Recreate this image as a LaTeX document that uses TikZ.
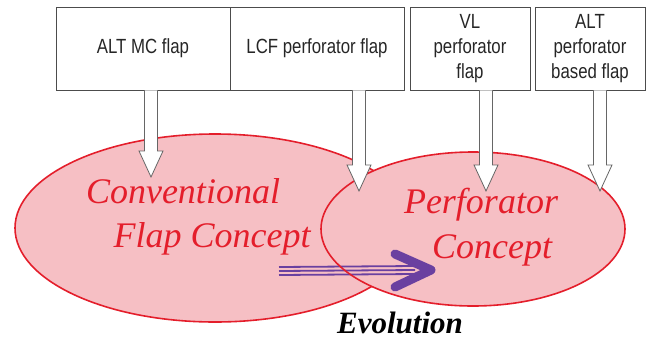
\documentclass[tikz,border=0pt]{standalone}
\usepackage{fontspec}
\newfontfamily\conceptfont{Liberation Serif}
\newfontfamily\boxfont[FakeStretch=0.82]{Liberation Sans}
\usetikzlibrary{calc,shapes.geometric}

\definecolor{flappink}{RGB}{246,191,196}
\definecolor{flapred}{RGB}{228,30,43}
\definecolor{evopurple}{RGB}{106,64,160}

% block arrow from the bottom of a box down to a tip
\newcommand{\flaparrow}[2]{%
\draw[flaparrow] ($(#2 |- #1.south)+(-6.5,0)$) -- ($(#2)+(-6.5,-26)$) -- ($(#2)+(-12,-26)$) -- (#2)
  -- ($(#2)+(12,-26)$) -- ($(#2)+(6.5,-26)$) -- ($(#2 |- #1.south)+(6.5,0)$);}

\begin{document}
\begin{tikzpicture}[x=1pt,y=-1pt,
  flapbox/.style={draw=black!70,line width=0.8pt,minimum height=83pt,inner sep=0pt,
    align=center,text=black!85,font=\boxfont\fontsize{20.5}{25}\selectfont},
  flaparrow/.style={draw=black!60,fill=white,line width=0.8pt,line join=miter},
  concept/.style={ellipse,fill=flappink,inner sep=0pt},
  concepttext/.style={anchor=base,text=flapred,font=\conceptfont\itshape\fontsize{36}{40}\selectfont}]
\useasboundingbox (0,0) rectangle (653,341);

% ellipses
\node[concept,draw=flapred,line width=1.6pt,minimum width=400pt,minimum height=188pt] (conv) at (215,228) {};
\node[concept,minimum width=304pt,minimum height=154pt] (perf) at (473,229) {};

% evolution arrow
\coordinate (evostart) at (279,271);
\coordinate (evotip) at (431,270);
\foreach \dy in {-4,0,4}
  \draw[evopurple,line width=1.8pt] ($(evostart)+(0,\dy)$) -- ($(evotip)+(-16,\dy)$);
\draw[flapred,line width=1.6pt] (perf) ellipse [x radius=152pt,y radius=77pt];
\draw[evopurple,line width=9pt,line cap=round,line join=round] ($(evotip)+(-36,-16)$) -- (evotip) -- ($(evotip)+(-36,17)$);

\node[concepttext] (conv1) at (183,203) {Conventional};
\node[concepttext] (conv2) at (212,247) {Flap Concept};
\node[concepttext] (perf1) at (481,213) {Perforator};
\node[concepttext] (perf2) at (492,258) {Concept};
\node[anchor=base,font=\conceptfont\bfseries\itshape\fontsize{31}{34}\selectfont] (evo) at (400,333) {Evolution};

% boxes
\node[flapbox,minimum width=174pt] (altmc) at (143,48.5) {ALT MC flap};
\node[flapbox,minimum width=174pt] (lcf) at (317,48.5) {LCF perforator flap};
\node[flapbox,minimum width=120pt] (vl) at (470,48.5) {VL\\perforator\\flap};
\node[flapbox,minimum width=110pt] (altperf) at (590,48.5) {ALT\\perforator\\based flap};

\coordinate (t1) at (151,177);
\coordinate (t2) at (359,191);
\coordinate (t3) at (486,191);
\coordinate (t4) at (600,191);
\flaparrow{altmc}{t1}
\flaparrow{lcf}{t2}
\flaparrow{vl}{t3}
\flaparrow{altperf}{t4}

\end{tikzpicture}
\end{document}
